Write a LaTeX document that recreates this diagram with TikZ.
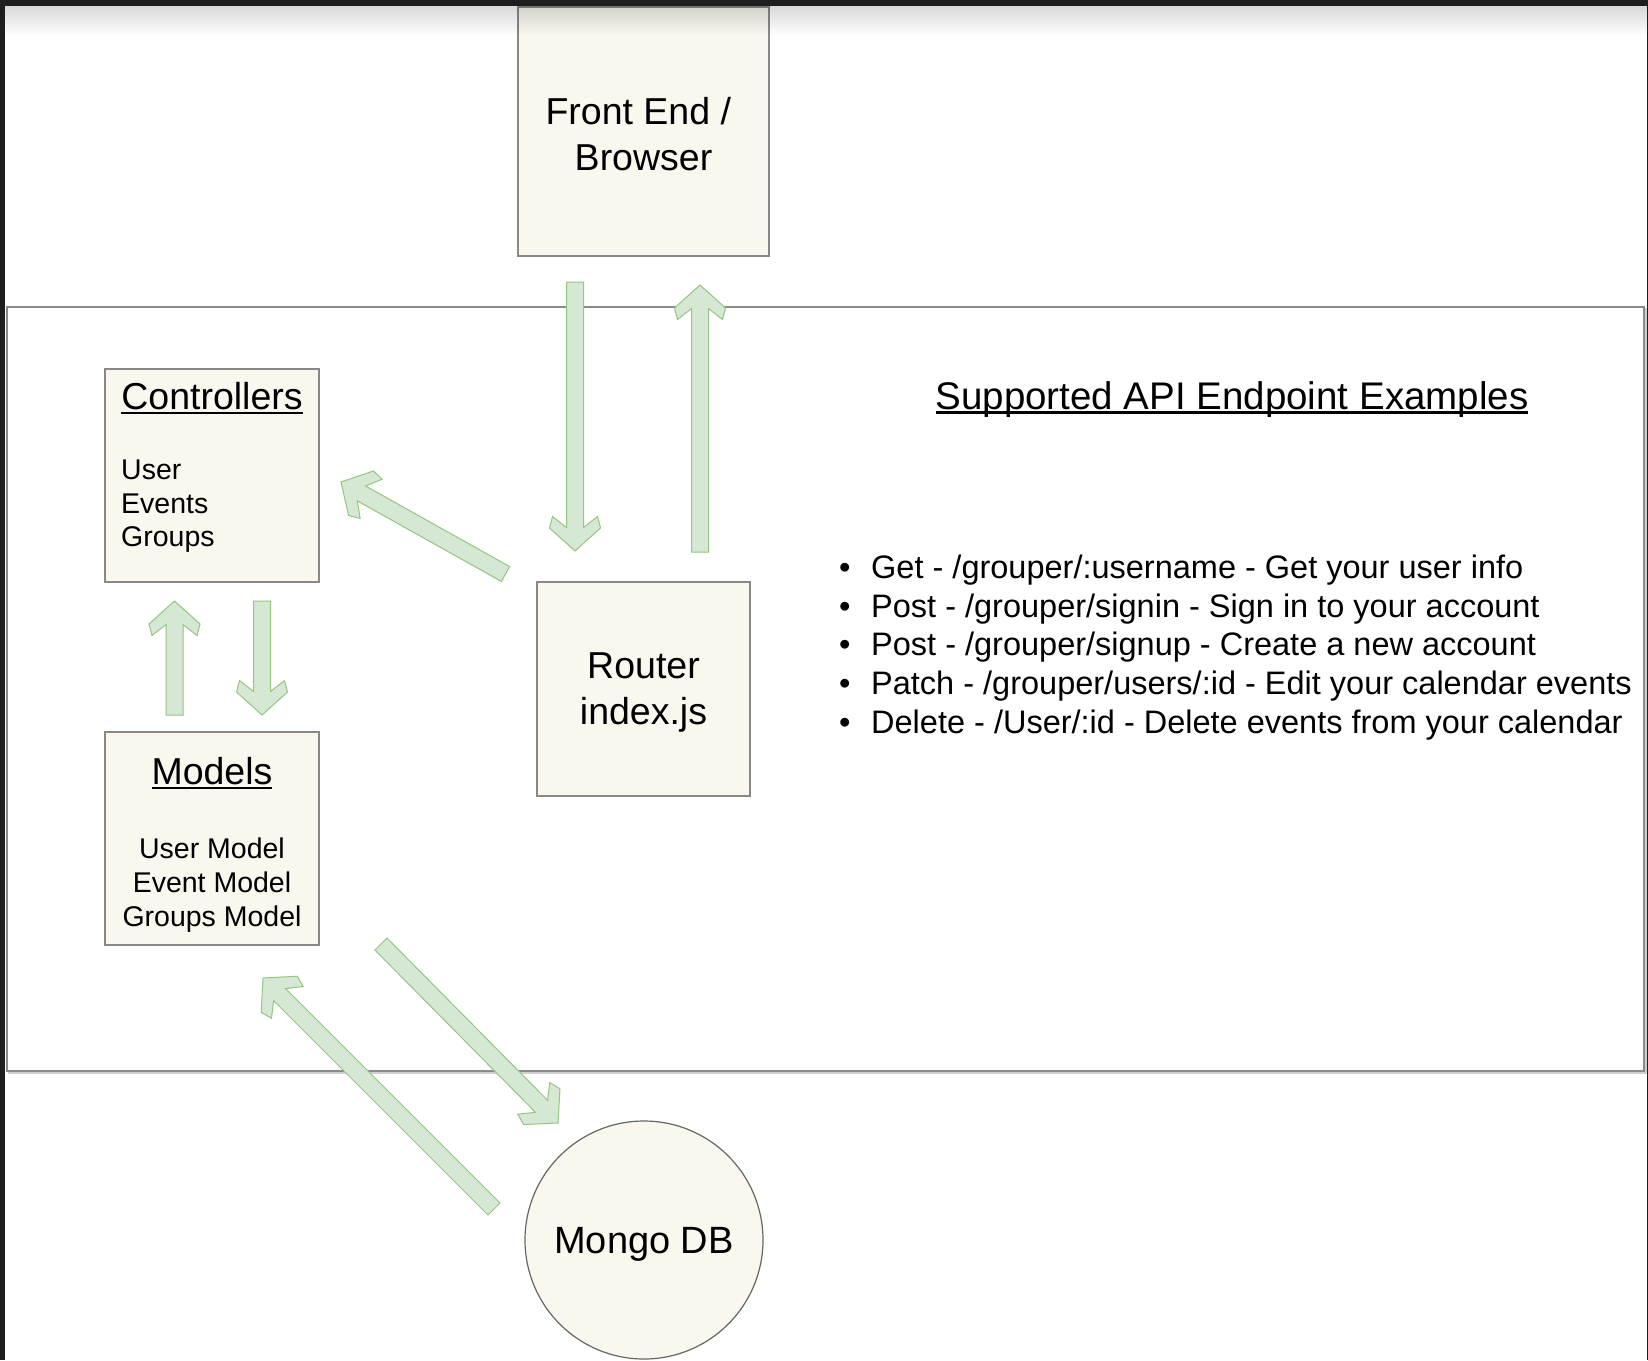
\documentclass[tikz,border=0pt]{standalone}
\usepackage{fontspec}
\setmainfont{Liberation Sans}
\usetikzlibrary{calc}
\definecolor{boxfill}{HTML}{F9F7EE}
\definecolor{boxline}{HTML}{888888}
\definecolor{arrfill}{HTML}{D5E8D4}
\definecolor{arrline}{HTML}{96C483}
\definecolor{framecol}{HTML}{1D1E1D}
\definecolor{contline}{HTML}{8A8A8A}
\definecolor{contshadow}{HTML}{CFCFCF}
\newcommand\myul[1]{\setbox0\hbox{#1}\rlap{\rule[-0.12em]{\wd0}{0.065em}}\box0}
\newcommand\flexarr[2]{%
  \coordinate (fa1) at ($(#2)!23.5pt!(#1)$);
  \coordinate (fa2) at ($(#2)!34.5pt!(#1)$);
  \coordinate (fa3) at ($(#2)!23pt!(#1)$);
  \draw[flexarrow]
    ($(#1)!8.5pt!90:(#2)$) -- ($(fa1)!8.5pt!90:(#2)$) -- ($(fa2)!22.5pt!90:(#2)$)
    -- ($(fa3)!25.5pt!90:(#2)$) -- (#2)
    -- ($(fa3)!25.5pt!-90:(#2)$) -- ($(fa2)!22.5pt!-90:(#2)$) -- ($(fa1)!8.5pt!-90:(#2)$)
    -- ($(#1)!8.5pt!-90:(#2)$) -- cycle;
}
\tikzset{
  box/.style={draw=boxline, fill=boxfill, line width=1.3pt, inner sep=0pt,
    minimum width=214pt, minimum height=213pt},
  bigtxt/.style={font=\fontsize{37.5pt}{46pt}\selectfont, align=center, text=black, inner sep=0pt},
  midtxt/.style={font=\fontsize{28.5pt}{34pt}\selectfont, text=black, inner sep=0pt},
  listtxt/.style={font=\fontsize{32.5pt}{39pt}\selectfont, text=black, inner sep=0pt, anchor=base west},
  flexarrow/.style={fill=arrfill, draw=arrline, line width=1pt, line join=miter},
}
\begin{document}
\begin{tikzpicture}[x=1pt, y=-1pt]
\useasboundingbox (0,0) rectangle (1648,1360);
\fill[white] (0,0) rectangle (1648,1360);

% container
\draw[contshadow, line width=2pt] (9,309) rectangle (1646,1073);
\draw[contline, line width=2pt, fill=white] (6.5,306.5) rectangle (1643.5,1070.5);

% boxes
\node[box, minimum width=251pt, minimum height=249pt] (fe) at (643.5,131.5) {};
\node[bigtxt] (fet) at ($(fe.center)+(0,2.5)$) {Front End /\hspace*{10.4pt}\\Browser};
\node[box] (ctl) at (212,475.5) {};
\node[box] (mdl) at (212,838.5) {};
\node[box, minimum width=213pt, minimum height=214pt] (rtr) at (643.5,689) {};
\node[bigtxt] (rtrt) at ($(rtr.center)+(0,3)$) {Router\\index.js};
\node[circle, draw=black!60, line width=1.2pt, fill=boxfill, minimum size=238pt, inner sep=0pt] (db) at (644,1240) {};
\node[inner sep=0pt, font=\fontsize{38pt}{46pt}\selectfont] (dbt) at ($(db.center)+(0,4)$) {Mongo DB};

% box texts
\node[bigtxt, anchor=base] (ctlt) at (212,409.5) {\myul{Controllers}};
\node[midtxt, anchor=base west] (c1) at (121,479) {User};
\node[midtxt, anchor=base west] (c2) at (121,513) {Events};
\node[midtxt, anchor=base west] (c3) at (121,546) {Groups};

\node[bigtxt, anchor=base] (mdlt) at (212,784.5) {\myul{Models}};
\node[midtxt, anchor=base] (m1) at (212,858) {User Model};
\node[midtxt, anchor=base] (m2) at (212,892) {Event Model};
\node[midtxt, anchor=base] (m3) at (212,926) {Groups Model};

% API list
\node[bigtxt, font=\fontsize{38.5pt}{46pt}\selectfont, anchor=base] (apit) at (1232,409)
  {\myul{Supported API Endpoint Examples}};
\node[listtxt] (l1) at (839,578) {\makebox[32pt][l]{\textbullet}Get - /grouper/:username - Get your user info};
\node[listtxt] (l2) at (839,617) {\makebox[32pt][l]{\textbullet}Post - /grouper/signin - Sign in to your account};
\node[listtxt] (l3) at (839,655.5) {\makebox[32pt][l]{\textbullet}Post - /grouper/signup - Create a new account};
\node[listtxt] (l4) at (839,694) {\makebox[32pt][l]{\textbullet}Patch - /grouper/users/:id - Edit your calendar events};
\node[listtxt] (l5) at (839,733) {\makebox[32pt][l]{\textbullet}Delete - /User/:id - Delete events from your calendar};

% arrow end points
\coordinate (a1s) at (575,282);   \coordinate (a1t) at (575,551);
\coordinate (a2s) at (700,552);   \coordinate (a2t) at (700,285);
\coordinate (a3s) at (505.5,574); \coordinate (a3t) at (341,482);
\coordinate (a4s) at (174.5,715); \coordinate (a4t) at (174.5,601);
\coordinate (a5s) at (262,601);   \coordinate (a5t) at (262,715);
\coordinate (a6s) at (381,944);   \coordinate (a6t) at (558,1123);
\coordinate (a7s) at (494,1209);  \coordinate (a7t) at (263,978);

\flexarr{a1s}{a1t}
\flexarr{a2s}{a2t}
\flexarr{a3s}{a3t}
\flexarr{a4s}{a4t}
\flexarr{a5s}{a5t}
\flexarr{a6s}{a6t}
\flexarr{a7s}{a7t}

% top shadow gradient
\foreach \i [evaluate=\i as \op using 0.15*(1-\i/30)] in {0,...,29}
  \fill[black, opacity=\op] (5,6+\i) rectangle (1647,7+\i);

% window frame
\fill[framecol] (0,0) rectangle (1648,6);
\fill[framecol] (0,0) rectangle (5,1360);
\fill[framecol] (1647,0) rectangle (1648,1360);
\end{tikzpicture}
\end{document}
